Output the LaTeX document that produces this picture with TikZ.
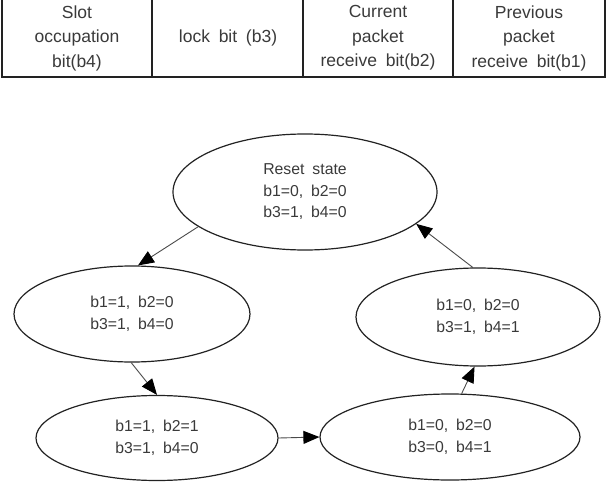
\documentclass[tikz,border=0pt]{standalone}
\usepackage{fontspec}
\setmainfont{Liberation Sans}[WordSpace=1.8]
\usetikzlibrary{arrows.meta,shapes.geometric}
\definecolor{txt}{HTML}{3A3A3A}
\definecolor{ln}{HTML}{222222}
\definecolor{arr}{HTML}{4A4A4A}
\begin{document}
\begin{tikzpicture}[x=1pt,y=-1pt,
  cell/.style={align=center,text=txt,font=\fontsize{17.5}{24.5}\selectfont,inner sep=0pt},
  st/.style={ellipse,draw=ln,line width=1.2pt,align=center,text=txt,
    font=\fontsize{15.8}{21.5}\selectfont,inner sep=0pt},
  conn/.style={draw=arr,line width=0.9pt,-{Triangle[length=16pt,width=13pt,color=black]}}]
\useasboundingbox (0,0) rectangle (607,489);
% table
\draw[ln,line width=1.4pt] (2,0) -- (2,77) -- (605,77) -- (605,0);
\draw[ln,line width=1.4pt] (152,0) -- (152,77) (303,0) -- (303,77) (453,0) -- (453,77);
\node[cell] (c1) at (77,38) {Slot\\occupation\\bit(b4)};
\node[cell] (c2) at (228,38) {lock bit (b3)};
\node[cell] (c3) at (378,38) {Current\\packet\\receive bit(b2)};
\node[cell] (c4) at (529,38) {Previous\\packet\\receive bit(b1)};
% states
\node[st,minimum width=264pt,minimum height=116pt] (reset) at (305,192) {Reset state\\b1=0, b2=0\\b3=1, b4=0};
\node[st,minimum width=236pt,minimum height=96pt] (s1) at (132,314) {b1=1, b2=0\\b3=1, b4=0};
\node[st,minimum width=242pt,minimum height=85pt] (s2) at (157,438) {b1=1, b2=1\\b3=1, b4=0};
\node[st,minimum width=260pt,minimum height=86pt] (s3) at (450,437) {b1=0, b2=0\\b3=0, b4=1};
\node[st,minimum width=244pt,minimum height=98pt] (s4) at (478,317) {b1=0, b2=0\\b3=1, b4=1};
% transitions
\draw[conn] (reset.198.6) -- (s1.83);
\draw[conn] (s1.269) -- (s2.90);
\draw[conn] (s2.east) -- (s3.west);
\draw[conn] (s3.75) -- (s4.266);
\draw[conn] (s4.96) -- (reset.344);
\end{tikzpicture}
\end{document}
